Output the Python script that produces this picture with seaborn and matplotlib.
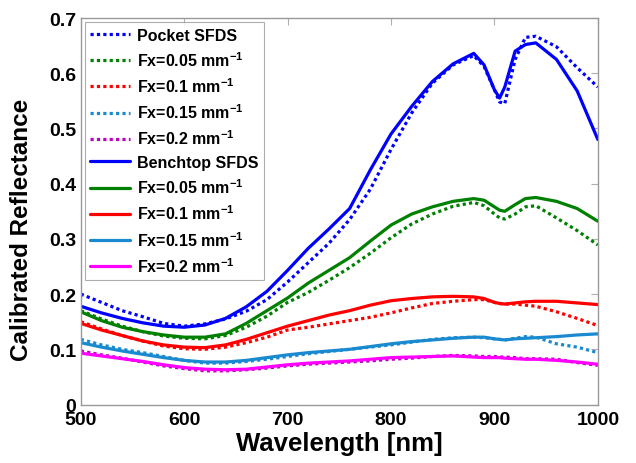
import numpy as np
import pandas as pd
import matplotlib
matplotlib.use("Agg")
import matplotlib.pyplot as plt
import seaborn as sns
from matplotlib.ticker import FormatStrFormatter

wavelength = [500, 520, 540, 560, 580, 600, 620, 640, 660, 680, 700, 720, 740, 760, 780,
              800, 820, 840, 860, 880, 890, 900, 905, 910, 920, 930, 940, 960, 980, 1000]

# Pocket SFDS (dotted)
pocket_total = [0.200, 0.185, 0.170, 0.159, 0.147, 0.142, 0.146, 0.155, 0.169, 0.190, 0.222, 0.257,
                0.292, 0.335, 0.390, 0.462, 0.528, 0.582, 0.615, 0.632, 0.612, 0.570, 0.548, 0.545,
                0.625, 0.665, 0.667, 0.648, 0.610, 0.575]
pocket_f005 = [0.170, 0.155, 0.142, 0.132, 0.124, 0.120, 0.119, 0.125, 0.140, 0.160, 0.185, 0.203,
               0.225, 0.248, 0.274, 0.302, 0.327, 0.345, 0.359, 0.366, 0.360, 0.345, 0.338, 0.336,
               0.345, 0.358, 0.360, 0.338, 0.315, 0.289]
pocket_f01 = [0.150, 0.137, 0.125, 0.115, 0.106, 0.101, 0.100, 0.104, 0.112, 0.122, 0.135, 0.140,
              0.146, 0.152, 0.158, 0.166, 0.175, 0.183, 0.187, 0.190, 0.190, 0.185, 0.183, 0.182,
              0.182, 0.180, 0.178, 0.168, 0.156, 0.143]
pocket_f015 = [0.118, 0.108, 0.100, 0.094, 0.087, 0.080, 0.075, 0.075, 0.078, 0.082, 0.087, 0.092,
               0.096, 0.100, 0.104, 0.108, 0.113, 0.118, 0.121, 0.122, 0.121, 0.119, 0.118, 0.117,
               0.120, 0.123, 0.122, 0.110, 0.104, 0.094]
pocket_f02 = [0.097, 0.090, 0.084, 0.077, 0.070, 0.065, 0.061, 0.061, 0.063, 0.066, 0.070, 0.073,
              0.075, 0.077, 0.079, 0.082, 0.084, 0.087, 0.089, 0.088, 0.087, 0.087, 0.086, 0.086,
              0.085, 0.083, 0.083, 0.082, 0.076, 0.071]

# Benchtop SFDS (solid)
bench_total = [0.178, 0.166, 0.156, 0.148, 0.142, 0.140, 0.144, 0.156, 0.177, 0.205, 0.243, 0.283,
               0.318, 0.355, 0.425, 0.490, 0.540, 0.585, 0.617, 0.636, 0.615, 0.570, 0.555, 0.575,
               0.640, 0.652, 0.655, 0.625, 0.568, 0.480]
bench_f005 = [0.168, 0.152, 0.140, 0.132, 0.126, 0.122, 0.122, 0.128, 0.147, 0.170, 0.193, 0.220,
              0.243, 0.266, 0.296, 0.325, 0.345, 0.358, 0.368, 0.373, 0.370, 0.358, 0.352, 0.350,
              0.362, 0.373, 0.375, 0.368, 0.355, 0.332]
bench_f01 = [0.147, 0.135, 0.125, 0.115, 0.108, 0.104, 0.103, 0.108, 0.118, 0.130, 0.142, 0.152,
             0.162, 0.170, 0.180, 0.188, 0.192, 0.195, 0.196, 0.195, 0.192, 0.185, 0.183, 0.182,
             0.184, 0.186, 0.187, 0.187, 0.184, 0.181]
bench_f015 = [0.112, 0.104, 0.097, 0.091, 0.085, 0.080, 0.077, 0.077, 0.080, 0.085, 0.090, 0.094,
              0.097, 0.100, 0.105, 0.110, 0.114, 0.117, 0.120, 0.122, 0.122, 0.119, 0.118, 0.117,
              0.119, 0.120, 0.121, 0.123, 0.126, 0.128]
bench_f02 = [0.093, 0.088, 0.083, 0.078, 0.072, 0.067, 0.064, 0.063, 0.064, 0.068, 0.072, 0.075,
             0.077, 0.079, 0.082, 0.085, 0.086, 0.087, 0.088, 0.086, 0.085, 0.085, 0.085, 0.084,
             0.083, 0.082, 0.082, 0.080, 0.077, 0.073]

labels = ["Pocket SFDS", r"Fx=0.05 mm$^{-1}$", r"Fx=0.1 mm$^{-1}$", r"Fx=0.15 mm$^{-1}$",
          r"Fx=0.2 mm$^{-1}$", "Benchtop SFDS", r"Fx=0.05 mm$^{-1}$", r"Fx=0.1 mm$^{-1}$",
          r"Fx=0.15 mm$^{-1}$", r"Fx=0.2 mm$^{-1}$"]

series = [pocket_total, pocket_f005, pocket_f01, pocket_f015, pocket_f02,
          bench_total, bench_f005, bench_f01, bench_f015, bench_f02]
colors = ["#0000ff", "#008000", "#ff0000", "#1a8ad0", "#bf00bf",
          "#0000ff", "#008000", "#ff0000", "#1a8ad0", "#ff00ff"]
styles = [(0, (1, 1))] * 5 + ["-"] * 5

sns.set_style("white")
plt.rcParams["font.family"] = ["Liberation Sans", "DejaVu Sans"]
plt.rcParams["font.weight"] = "bold"
plt.rcParams["text.color"] = "black"
plt.rcParams["axes.labelcolor"] = "black"
plt.rcParams["mathtext.fontset"] = "custom"
plt.rcParams["mathtext.rm"] = "Liberation Sans:bold"
plt.rcParams["mathtext.bf"] = "Liberation Sans:bold"
plt.rcParams["mathtext.default"] = "bf"

fig = plt.figure(figsize=(6.36, 4.64), dpi=100)
ax = fig.add_axes([0.127, 0.126, 0.813, 0.833])

for vals, lab, col, ls in zip(series, labels, colors, styles):
    sns.lineplot(x=wavelength, y=vals, ax=ax, color=col, linestyle=ls, linewidth=2.3, label=lab)

ax.set_xlim(500, 1000)
ax.set_ylim(0, 0.7)
ax.set_xticks([500, 600, 700, 800, 900, 1000])
ax.set_yticks(np.arange(0, 0.71, 0.1))
ax.yaxis.set_major_formatter(FormatStrFormatter("%g"))
ax.tick_params(direction="in", length=5, width=0.8, color="#b0b0b0", labelcolor="black",
               top=True, right=True, labelsize=14)
ax.tick_params(axis="x", pad=5)
ax.tick_params(axis="y", pad=3.5)
for lab in ax.get_xticklabels() + ax.get_yticklabels():
    lab.set_fontweight("bold")
for sp in ax.spines.values():
    sp.set_color("#999999")
    sp.set_linewidth(1.0)

ax.set_xlabel("Wavelength [nm]", fontsize=18.5, fontweight="bold", labelpad=2, color="black")
ax.set_ylabel("Calibrated Reflectance", fontsize=17.5, fontweight="bold", color="black")
ax.yaxis.set_label_coords(-0.092, 0.455)

leg = ax.legend(loc="upper left", bbox_to_anchor=(0.0, 1.0), fontsize=11.5, frameon=True,
                fancybox=False, handlelength=2.5, labelspacing=0.47, borderpad=0.35,
                handletextpad=0.4, borderaxespad=0.25)
leg.get_frame().set_edgecolor("#999999")
leg.get_frame().set_linewidth(0.8)
for t in leg.get_texts():
    t.set_fontweight("bold")
    t.set_color("black")

fig.savefig("out.png", dpi=100)
